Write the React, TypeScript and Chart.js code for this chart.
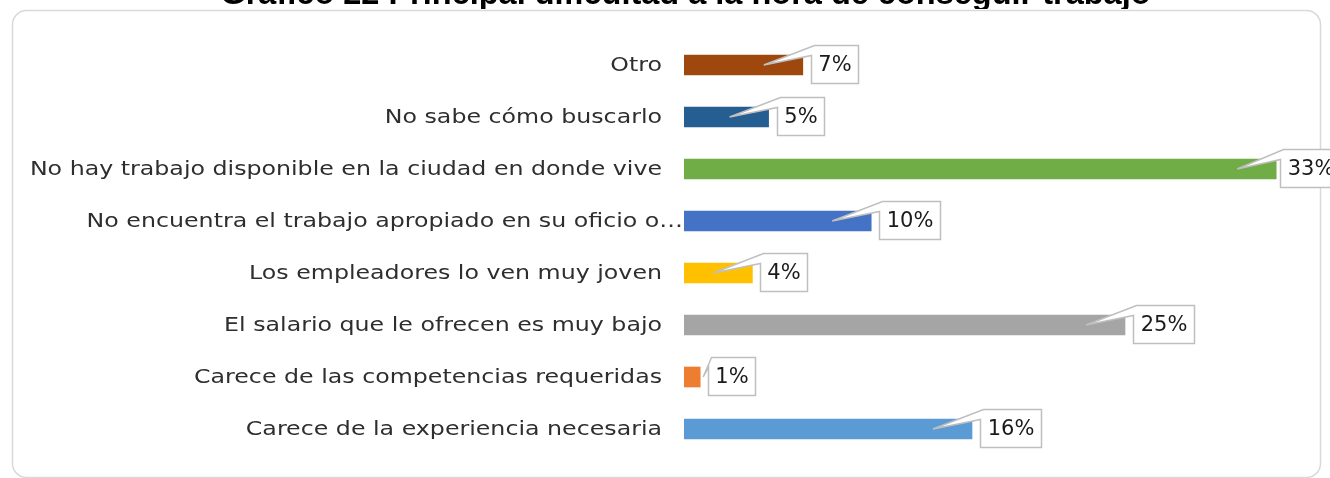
import React, { useEffect, useRef } from "react";
import { Chart, registerables } from "chart.js";

Chart.register(...registerables);

const TITLE = "Gráfico 22 Principal dificultad a la hora de conseguir trabajo";

const categories = [
  "Otro",
  "No sabe cómo buscarlo",
  "No hay trabajo disponible en la ciudad en donde vive",
  "No encuentra el trabajo apropiado en su oficio o…",
  "Los empleadores lo ven muy joven",
  "El salario que le ofrecen es muy bajo",
  "Carece de las competencias requeridas",
  "Carece de la experiencia necesaria",
];

const values = [6.6, 4.7, 32.9, 10.4, 3.8, 24.5, 0.9, 16.0];

const valueLabels = ["7%", "5%", "33%", "10%", "4%", "25%", "1%", "16%"];

const barColors = [
  "#9E480E",
  "#255E91",
  "#70AD47",
  "#4472C4",
  "#FFC000",
  "#A5A5A5",
  "#ED7D31",
  "#5B9BD5",
];

const W = 1330;
const H = 478;
const LABEL_FONT = '20px "DejaVu Sans"';
const VALUE_FONT = '21px "DejaVu Sans"';
const TEXT_COLOR = "#2e2e2e";
const LABEL_STRETCH = 1.185;
const VALUE_STRETCH = 1.0;

// draw text stretched horizontally (geometric wide face look)
function drawWide(ctx: any, text: string, x: number, y: number, align: string, k: number) {
  const w = ctx.measureText(text).width * k;
  let sx = x;
  if (align === "right") sx = x - w;
  else if (align === "center") sx = x - w / 2;
  ctx.save();
  ctx.translate(sx, y);
  ctx.scale(k, 1);
  ctx.textAlign = "left";
  ctx.fillText(text, 0, 0);
  ctx.restore();
}

const framePlugin = {
  id: "frame",
  beforeDraw(chart: any) {
    const ctx = chart.ctx;
    ctx.save();
    ctx.fillStyle = "#ffffff";
    ctx.fillRect(0, 0, W, H);
    ctx.beginPath();
    ctx.rect(0, 0, W, 9);
    ctx.clip();
    ctx.font = 'bold 32.5px "Liberation Sans"';
    ctx.fillStyle = "#000000";
    ctx.textAlign = "center";
    ctx.textBaseline = "alphabetic";
    ctx.fillText(TITLE, 685.5, 4);
    ctx.restore();

    ctx.save();
    ctx.strokeStyle = "#d9d9d9";
    ctx.lineWidth = 1.5;
    ctx.beginPath();
    ctx.roundRect(12.5, 10.5, 1308, 467, 14);
    ctx.stroke();
    ctx.restore();
  },
};

const labelPlugin = {
  id: "catLabels",
  afterDraw(chart: any) {
    const ctx = chart.ctx;
    const yScale = chart.scales.y;
    ctx.save();
    ctx.font = LABEL_FONT;
    ctx.fillStyle = TEXT_COLOR;
    ctx.textBaseline = "middle";
    categories.forEach((c, i) => {
      const y = yScale.getPixelForValue(i);
      const x = c.endsWith("…") ? chart.chartArea.left - 1 : chart.chartArea.left - 22;
      drawWide(ctx, c, x, y + 1, "right", LABEL_STRETCH);
    });
    ctx.restore();
  },
};

const calloutPlugin = {
  id: "callouts",
  afterDatasetsDraw(chart: any) {
    const ctx = chart.ctx;
    const meta = chart.getDatasetMeta(0);
    ctx.save();
    ctx.font = VALUE_FONT;
    meta.data.forEach((el: any, i: number) => {
      const end = el.x;
      const start = el.base;
      const cy = el.y;
      const text = valueLabels[i];
      const tw = ctx.measureText(text).width * VALUE_STRETCH;
      const bw = Math.round(tw + 14);
      const bh = 38;
      const left = Math.round(Math.min(end + 8, W - 50)) + 0.5;
      const top = Math.round(cy - 20) + 0.5;
      const tipX = end - start > 45 ? end - 39 : end + 3;
      const tipY = cy;
      ctx.beginPath();
      ctx.moveTo(left + 3, top);
      ctx.lineTo(left + bw, top);
      ctx.lineTo(left + bw, top + bh);
      ctx.lineTo(left, top + bh);
      ctx.lineTo(left, top + 10);
      ctx.lineTo(tipX, tipY);
      ctx.closePath();
      ctx.fillStyle = "#ffffff";
      ctx.fill();
      ctx.strokeStyle = "#bfbfbf";
      ctx.lineWidth = 1.5;
      ctx.stroke();
      ctx.fillStyle = "#1a1a1a";
      ctx.textBaseline = "middle";
      drawWide(ctx, text, left + bw / 2, top + bh / 2 + 1, "center", VALUE_STRETCH);
    });
    ctx.restore();
  },
};

export default function App() {
  const ref = useRef<HTMLCanvasElement | null>(null);
  useEffect(() => {
    if (!ref.current) return;
    const chart = new Chart(ref.current, {
      type: "bar",
      data: {
        labels: categories,
        datasets: [
          {
            data: values,
            backgroundColor: barColors,
            borderWidth: 0,
            barThickness: 20,
          },
        ],
      },
      options: {
        indexAxis: "y",
        responsive: false,
        animation: false,
        layout: { padding: { top: 39, bottom: 23, left: 0, right: 16 } },
        plugins: {
          legend: { display: false },
          title: { display: false },
          tooltip: { enabled: false },
        },
        scales: {
          x: { display: false, min: 0, max: 35 },
          y: {
            type: "category",
            grid: { display: false },
            border: { display: false },
            ticks: { display: false },
            afterFit(scale: any) {
              scale.width = 684;
            },
          },
        },
      },
      plugins: [framePlugin, labelPlugin, calloutPlugin],
    } as any);
    return () => chart.destroy();
  }, []);
  return (
    <div style={{ position: "absolute", left: 0, top: 0, width: W, height: H }}>
      <canvas ref={ref} width={W} height={H} style={{ display: "block" }} />
    </div>
  );
}
